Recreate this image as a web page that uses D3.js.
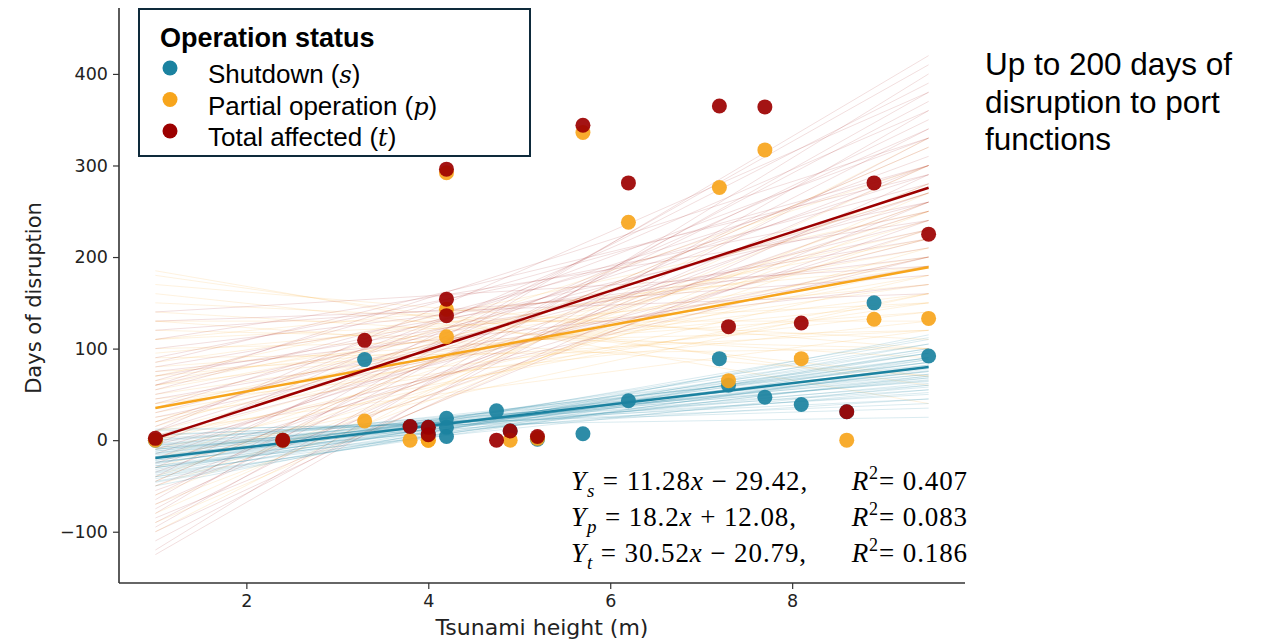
<!DOCTYPE html>
<html><head><meta charset="utf-8">
<script src="https://cdn.jsdelivr.net/npm/d3@7"></script>
<style>body{margin:0;background:#fff}svg{display:block}</style>
</head><body>
<svg id="c" width="1263" height="641"></svg>
<script>
// ---- data ----
const seriesNames = ["Shutdown", "Partial operation", "Total affected"];
const seriesSymbols = ["s", "p", "t"];
const colors = ["#1b82a0", "#f7a51c", "#9c0000"];

const sX = [1.0, 2.4, 3.3, 3.8, 4.0, 4.0, 4.2, 4.2, 4.2, 4.75, 4.9, 5.2, 5.7, 6.2, 7.2, 7.3, 7.7, 8.1, 8.6, 8.9, 9.5];
const sY = [0, 0, 88, 15, 14, 6, 24, 14, 4, 32, 10, 1, 7, 43, 89, 60, 47, 39, 31, 150, 92];
const pX = [1.0, 2.4, 3.3, 3.8, 4.0, 4.0, 4.2, 4.2, 4.2, 4.9, 5.2, 5.7, 6.2, 7.2, 7.3, 7.7, 8.1, 8.6, 8.9, 9.5];
const pY = [0, 0, 21, 0, 0, 0, 292, 143, 113, 0, 2, 336, 238, 276, 65, 317, 89, 0, 132, 133];
const tX = [1.0, 2.4, 3.3, 3.8, 4.0, 4.0, 4.2, 4.2, 4.2, 4.75, 4.9, 5.2, 5.7, 6.2, 7.2, 7.3, 7.7, 8.1, 8.6, 8.9, 9.5];
const tY = [2, 0, 109, 15, 14, 6, 296, 154, 136, 0, 10, 4, 344, 281, 365, 124, 364, 128, 31, 281, 225];

// fitted lines as drawn: [slope, intercept]
const fitS = [11.7, -31.3];
const fitP = [18.1, 17];
const fitT = [32.2, -30.2];
const fitRange = [1.0, 9.5];

// bootstrap lines: [value at x=1, value at x=9.5]
const bootT = [[-120,400],[-95,380],[-80,420],[-60,350],[-110,330],[-40,390],[-70,300],[-30,340],[-20,300],[-50,280],
  [0,310],[10,270],[-10,250],[20,290],[30,240],[40,260],[50,230],[60,250],[70,210],[80,220],
  [100,200],[120,180],[-100,290],[-85,260],[-5,360],[15,330],[-25,230],[5,220],[35,300],[55,280],
  [90,260],[110,240],[130,160],[-125,360],[-65,410],[-45,320],[25,200],[45,190],[65,300],[-15,270],
  [-35,260],[75,170],[85,290],[-90,340],[140,190],[-55,240],[10,380],[-5,200],[60,330],[-75,370]];
const bootP = [[-100,330],[-80,300],[-60,280],[-40,260],[-20,250],[0,240],[10,220],[20,200],[30,190],[40,180],
  [50,170],[60,160],[70,150],[80,140],[100,120],[120,100],[140,90],[160,70],[180,60],[-50,230],
  [-30,210],[-10,180],[5,160],[15,270],[25,150],[35,230],[45,140],[55,210],[65,190],[75,120],
  [85,200],[95,170],[110,150],[130,130],[150,110],[170,100],[-70,250],[-90,270],[20,300],[0,190],
  [40,130],[60,220],[90,100],[110,190],[185,40],[-20,160],[10,120],[130,70],[70,250],[-45,320]];
const bootS = [[-50,115],[-45,105],[-40,110],[-38,95],[-35,100],[-32,90],[-30,95],[-28,85],[-25,90],[-22,80],
  [-20,85],[-18,75],[-15,80],[-12,70],[-10,75],[-8,65],[-5,60],[0,55],[5,45],[10,35],
  [12,25],[-42,88],[-36,78],[-30,70],[-26,105],[-24,68],[-20,95],[-16,62],[-14,90],[-10,58],
  [-6,82],[-2,72],[2,50],[-34,112],[-28,60],[-22,100],[-18,55],[-12,85],[-8,45],[-4,68],
  [-46,98],[-40,80],[-30,82],[-24,76],[-18,88],[-14,72],[-10,66],[-6,52],[0,64],[6,40]];

const xTicks = [2, 4, 6, 8];
const yTicks = [-100, 0, 100, 200, 300, 400];

const equations = [
  {sym: "s", slope: "11.28", sign: "−", icpt: "29.42", r2: "0.407"},
  {sym: "p", slope: "18.2", sign: "+", icpt: "12.08", r2: "0.083"},
  {sym: "t", slope: "30.52", sign: "−", icpt: "20.79", r2: "0.186"}
];
const r2X = [846, 843, 843];
const noteLines = ["Up to 200 days of", "disruption to port", "functions"];

// ---- drawing ----
const svg = d3.select("#c");
svg.append("rect").attr("width", 1263).attr("height", 641).attr("fill", "#fff");

const x = d3.scaleLinear().domain([0.6, 9.9]).range([119, 965]);
const y = d3.scaleLinear().domain([-156, 472]).range([583, 8]);

const g = svg.append("g");
function drawBoot(data, color, op) {
  g.append("g").selectAll("line").data(data).join("line")
    .attr("x1", x(fitRange[0])).attr("x2", x(fitRange[1]))
    .attr("y1", d => y(d[0])).attr("y2", d => y(d[1]))
    .attr("stroke", color).attr("stroke-width", 1).attr("stroke-opacity", op);
}
drawBoot(bootP, colors[1], 0.14);
drawBoot(bootT, colors[2], 0.13);
drawBoot(bootS, colors[0], 0.16);

function drawFit(f, color) {
  g.append("line")
    .attr("x1", x(fitRange[0])).attr("x2", x(fitRange[1]))
    .attr("y1", y(f[0]*fitRange[0] + f[1])).attr("y2", y(f[0]*fitRange[1] + f[1]))
    .attr("stroke", color).attr("stroke-width", 2.5);
}
drawFit(fitS, colors[0]);
drawFit(fitP, colors[1]);
drawFit(fitT, colors[2]);

function drawPts(xs, ys, color) {
  g.append("g").selectAll("circle").data(xs.map((v, i) => [v, ys[i]])).join("circle")
    .attr("cx", d => x(d[0])).attr("cy", d => y(d[1])).attr("r", 7.5)
    .attr("fill", color).attr("fill-opacity", 0.92);
}
drawPts(sX, sY, colors[0]);
drawPts(pX, pY, colors[1]);
drawPts(tX, tY, colors[2]);

// axes
const axisColor = "#333";
const yAxis = svg.append("g").attr("transform", "translate(119,0)")
  .call(d3.axisLeft(y).tickValues(yTicks).tickSize(6).tickPadding(5).tickFormat(d => d < 0 ? "−" + Math.abs(d) : d));
const xAxis = svg.append("g").attr("transform", "translate(0,583)")
  .call(d3.axisBottom(x).tickValues(xTicks).tickSize(6).tickPadding(6));
[yAxis, xAxis].forEach(a => {
  a.select(".domain").attr("stroke", axisColor).attr("stroke-width", 1.6);
  a.selectAll(".tick line").attr("stroke", axisColor).attr("stroke-width", 1.2);
  a.selectAll(".tick text").attr("fill", "#222").style("font-family", "DejaVu Sans").style("font-size", "17.5px");
});
yAxis.select(".domain").attr("d", "M-0,583V8");
xAxis.select(".domain").attr("d", "M119,0H965");

svg.append("text").attr("transform", "translate(41,298) rotate(-90)").attr("text-anchor", "middle")
  .style("font-family", "DejaVu Sans").style("font-size", "21px").attr("fill", "#222").text("Days of disruption");
svg.append("text").attr("x", 542).attr("y", 635).attr("text-anchor", "middle")
  .style("font-family", "DejaVu Sans").style("font-size", "22px").attr("fill", "#222").text("Tsunami height (m)");

// legend
const lg = svg.append("g");
lg.append("rect").attr("x", 139).attr("y", 9).attr("width", 391).attr("height", 147)
  .attr("fill", "#fff").attr("stroke", "#0e2a3b").attr("stroke-width", 2);
lg.append("text").attr("x", 160).attr("y", 47).style("font-family", "Liberation Sans").style("font-weight", "bold")
  .style("font-size", "27px").attr("fill", "#000").text("Operation status");
seriesNames.forEach((n, i) => {
  const yy = 68 + i * 31.5;
  lg.append("circle").attr("cx", 170).attr("cy", yy).attr("r", 7.5).attr("fill", colors[i]);
  const t = lg.append("text").attr("x", 208).attr("y", yy + 15).style("font-family", "Liberation Sans")
    .style("font-size", "26px").attr("fill", "#000");
  t.append("tspan").text(n + " (");
  t.append("tspan").style("font-family", "DejaVu Serif").style("font-style", "italic").style("font-size", "24px").text(seriesSymbols[i]);
  t.append("tspan").text(")");
});

// equations
equations.forEach((e, i) => {
  const by = 490 + i * 36;
  const t = svg.append("text").attr("x", 571).attr("y", by).style("font-family", "Liberation Serif")
    .style("font-size", "27px").style("letter-spacing", "0.9px").attr("fill", "#000");
  t.append("tspan").style("font-style", "italic").text("Y");
  t.append("tspan").style("font-style", "italic").style("font-size", "19px").attr("dy", 7).text(e.sym);
  t.append("tspan").attr("dy", -7).text(" = " + e.slope);
  t.append("tspan").style("font-style", "italic").text("x");
  t.append("tspan").text(" " + e.sign + " " + e.icpt + ",");
  const r = svg.append("text").attr("x", 968).attr("y", by).attr("text-anchor", "end")
    .style("font-family", "Liberation Serif").style("font-size", "27px").style("letter-spacing", "0.9px").attr("fill", "#000");
  r.append("tspan").style("font-style", "italic").text("R");
  r.append("tspan").style("font-size", "18px").attr("dy", -11).text("2");
  r.append("tspan").attr("dy", 11).text("= " + e.r2);
});

// side note
noteLines.forEach((l, i) => {
  svg.append("text").attr("x", 985).attr("y", 75 + i * 37.5).style("font-family", "Liberation Sans")
    .style("font-size", "31.5px").attr("fill", "#000").text(l);
});
</script>
</body></html>
